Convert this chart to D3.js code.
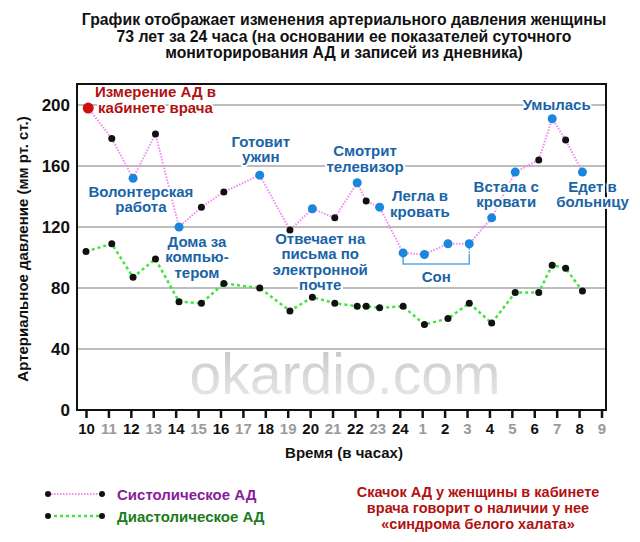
<!DOCTYPE html>
<html>
<head>
<meta charset="utf-8">
<script src="https://cdn.jsdelivr.net/npm/d3@7"></script>
<style>
  body { margin: 0; background: #fff; }
  text { font-family: "Liberation Sans", Arial, sans-serif; }
</style>
</head>
<body>
<div id="root"></div>
<script>
// hours counted from 10:00 of the first day (24 -> midnight, 25 -> 1:00 ...)
var hours     = [10.1, 11.15, 12.1, 13.1, 14.15, 15.15, 16.15, 17.75, 19.1, 20.1, 21.1, 22.1,
                 22.5, 23.1, 24.15, 25.1, 26.15, 27.1, 28.1, 29.15, 30.2, 30.8, 31.4, 32.15];
var systolic  = [198, 178, 152, 181, 120, 133, 143, 154, 118, 132, 126, 149,
                 137, 133, 103, 102, 109, 109, 126, 156, 164, 191, 177, 156];
var diastolic = [104, 109, 87, 99, 71, 70, 83, 80, 65, 74, 70, 68,
                 68, 67, 68, 56, 60, 70, 57, 77, 77, 95, 93, 78];
// marker kind for the systolic points: r = office, b = diary entry, k = plain
var sysKind   = ['r', 'k', 'b', 'k', 'b', 'k', 'k', 'b', 'k', 'b', 'k', 'b',
                 'k', 'b', 'b', 'b', 'b', 'b', 'b', 'b', 'k', 'b', 'k', 'b'];

var tickHours = d3.range(10, 34);
var yTicks = [0, 40, 80, 120, 160, 200];

var titleLines = [
  'График отображает изменения артериального давления женщины',
  '73 лет за 24 часа (на основании ее показателей суточного',
  'мониторирования АД и записей из дневника)'
];

// diary notes: hour / value of the first text line and the lines of text
var notes = [
  { h: 12.45, v: 139.7, lines: ['Волонтерская', 'работа'] },
  { h: 14.95, v: 107,   lines: ['Дома за', 'компью-', 'тером'] },
  { h: 17.8,  v: 172.5, lines: ['Готовит', 'ужин'] },
  { h: 20.45, v: 109,   lines: ['Отвечает на', 'письма по', 'электронной', 'почте'] },
  { h: 22.45, v: 166.5, lines: ['Смотрит', 'телевизор'] },
  { h: 24.9,  v: 137,   lines: ['Легла в', 'кровать'] },
  { h: 28.75, v: 143,   lines: ['Встала с', 'кровати'] },
  { h: 31.0,  v: 196.7, lines: ['Умылась'] },
  { h: 32.6,  v: 143,   lines: ['Едет в', 'больницу'] }
];
var officeNote = { h: 13.1, v: 205.2, lines: ['Измерение АД в', 'кабинете врача'] };

var width = 640, height = 542;
var box = { left: 77, right: 606, top: 84, bottom: 410 };

var x = d3.scaleLinear().domain([10, 33]).range([86, 601.5]);
var y = d3.scaleLinear().domain([0, 200]).range([410, 105]);

var svg = d3.select('#root')
  .append('svg')
    .attr('width', width)
    .attr('height', height);

var defs = svg.append('defs');
var grad = defs.append('linearGradient')
  .attr('id', 'wm').attr('x1', 0).attr('y1', 0).attr('x2', 0).attr('y2', 1);
grad.append('stop').attr('offset', '0%').attr('stop-color', '#c4c4c4');
grad.append('stop').attr('offset', '60%').attr('stop-color', '#dcdcdc');
grad.append('stop').attr('offset', '100%').attr('stop-color', '#ececec');

// title
svg.append('g').selectAll('text')
  .data(titleLines)
  .enter().append('text')
    .attr('x', 344)
    .attr('y', function(d, i) { return 25 + i * 16.5; })
    .attr('text-anchor', 'middle')
    .attr('font-size', 15.8)
    .attr('font-weight', 'bold')
    .attr('fill', '#111')
    .text(function(d) { return d; });

// grid
svg.append('g').selectAll('line')
  .data(yTicks.filter(function(d) { return d > 0; }))
  .enter().append('line')
    .attr('x1', box.left).attr('x2', box.right)
    .attr('y1', function(d) { return y(d); })
    .attr('y2', function(d) { return y(d); })
    .attr('stroke', '#bdbdbd')
    .attr('stroke-width', 2);

// watermark
svg.append('text')
  .attr('x', 345)
  .attr('y', 394)
  .attr('text-anchor', 'middle')
  .attr('font-size', 57)
  .attr('fill', 'url(#wm)')
  .attr('textLength', 311)
  .text('okardio.com');

// frame
svg.append('rect')
  .attr('x', box.left).attr('y', box.top)
  .attr('width', box.right - box.left)
  .attr('height', box.bottom - box.top)
  .attr('fill', 'none')
  .attr('stroke', '#111')
  .attr('stroke-width', 2);

// y axis labels
var yAxis = d3.axisLeft(y).tickValues(yTicks).tickSize(0).tickPadding(7);
var gy = svg.append('g')
  .attr('transform', 'translate(' + box.left + ',0)')
  .call(yAxis);
gy.select('.domain').remove();
gy.selectAll('text')
  .attr('font-family', '"Liberation Sans", Arial, sans-serif')
  .attr('font-size', 17)
  .attr('font-weight', 'bold')
  .attr('fill', '#111');

// x axis
var xAxis = d3.axisBottom(x)
  .tickValues(tickHours)
  .tickSize(8)
  .tickPadding(5)
  .tickFormat(function(d) { return d > 24 ? d - 24 : d; });
var gx = svg.append('g')
  .attr('transform', 'translate(0,' + box.bottom + ')')
  .call(xAxis);
gx.select('.domain')
  .attr('d', 'M' + box.left + ',0H' + (box.right + 1))
  .attr('stroke', '#111')
  .attr('stroke-width', 2);
gx.selectAll('.tick line').attr('stroke', '#111').attr('stroke-width', 2.5);
gx.selectAll('text')
  .attr('font-family', '"Liberation Sans", Arial, sans-serif')
  .attr('font-size', 15)
  .attr('font-weight', 'bold')
  .attr('fill', function(d) { return d % 2 ? '#9a9a9a' : '#111'; });

svg.append('text')
  .attr('x', 344).attr('y', 458)
  .attr('text-anchor', 'middle')
  .attr('font-size', 15).attr('font-weight', 'bold')
  .attr('fill', '#111')
  .text('Время (в часах)');

svg.append('text')
  .attr('transform', 'translate(28,' + 249 + ') rotate(-90)')
  .attr('text-anchor', 'middle')
  .attr('font-size', 15).attr('font-weight', 'bold')
  .attr('fill', '#111')
  .text('Артериальное давление (мм рт. ст.)');

// lines
var sysPts = hours.map(function(h, i) { return [x(h), y(systolic[i])]; });
var diaPts = hours.map(function(h, i) { return [i === 0 ? x(10) : x(h), y(diastolic[i])]; });

svg.append('path')
  .attr('d', d3.line()(diaPts))
  .attr('fill', 'none')
  .attr('stroke', '#3ee63e')
  .attr('stroke-width', 2.5)
  .attr('stroke-dasharray', '3,3');

svg.append('path')
  .attr('d', d3.line()(sysPts))
  .attr('fill', 'none')
  .attr('stroke', '#f28af2')
  .attr('stroke-width', 2)
  .attr('stroke-dasharray', '1.5,1.5');

// sleep bracket
var sleepFrom = hours[14], sleepTo = hours[17];
var bracketY = 264;
svg.append('path')
  .attr('d', 'M' + x(sleepFrom) + ',' + 254 + 'V' + bracketY +
             'H' + x(sleepTo) + 'V' + 254)
  .attr('fill', 'none')
  .attr('stroke', '#5aa8e0')
  .attr('stroke-width', 1.5);
svg.append('line')
  .attr('x1', x(sleepTo)).attr('x2', x(sleepTo))
  .attr('y1', y(systolic[17]) + 4).attr('y2', 254)
  .attr('stroke', '#5aa8e0')
  .attr('stroke-width', 1.5)
  .attr('stroke-dasharray', '2,1.5');
svg.append('text')
  .attr('x', (x(sleepFrom) + x(sleepTo)) / 2)
  .attr('y', 282)
  .attr('text-anchor', 'middle')
  .attr('font-size', 15).attr('font-weight', 'bold')
  .attr('fill', '#1a64a6')
  .text('Сон');

// markers
svg.append('g').selectAll('circle')
  .data(diaPts)
  .enter().append('circle')
    .attr('cx', function(d) { return d[0]; })
    .attr('cy', function(d) { return d[1]; })
    .attr('r', 3.5)
    .attr('fill', '#111');

var kindR = { r: 5.5, b: 4.5, k: 3.5 };
var kindC = { r: '#cc1010', b: '#1a86dc', k: '#111' };
svg.append('g').selectAll('circle')
  .data(sysPts)
  .enter().append('circle')
    .attr('cx', function(d) { return d[0]; })
    .attr('cy', function(d) { return d[1]; })
    .attr('r', function(d, i) { return kindR[sysKind[i]]; })
    .attr('fill', function(d, i) { return kindC[sysKind[i]]; });

// notes
function noteBlock(n, color) {
  var t = svg.append('text')
    .attr('text-anchor', 'middle')
    .attr('font-size', 15).attr('font-weight', 'bold')
    .attr('fill', color)
    .attr('stroke', '#fff').attr('stroke-width', 4)
    .attr('paint-order', 'stroke')
    .attr('stroke-linejoin', 'round');
  n.lines.forEach(function(line, i) {
    t.append('tspan')
      .attr('x', x(n.h))
      .attr('y', y(n.v) + i * 15.5)
      .text(line);
  });
}
notes.forEach(function(n) { noteBlock(n, '#1a64a6'); });
noteBlock(officeNote, '#b01212');

// legend
var legend = [
  { name: 'Систолическое АД', line: '#f28af2', dash: '1.5,1.5', text: '#8a1c9c', w: 2 },
  { name: 'Диастолическое АД', line: '#3ee63e', dash: '3,3', text: '#1c7c1c', w: 2.5 }
];
var lg = svg.append('g').selectAll('g')
  .data(legend)
  .enter().append('g')
    .attr('transform', function(d, i) { return 'translate(0,' + (494 + i * 22) + ')'; });
lg.append('line')
  .attr('x1', 48).attr('x2', 102)
  .attr('stroke', function(d) { return d.line; })
  .attr('stroke-width', function(d) { return d.w; })
  .attr('stroke-dasharray', function(d) { return d.dash; });
lg.selectAll('circle')
  .data([48, 102])
  .enter().append('circle')
    .attr('cx', function(d) { return d; })
    .attr('r', 3)
    .attr('fill', '#111');
lg.append('text')
  .attr('x', 117).attr('y', 5.5)
  .attr('font-size', 15).attr('font-weight', 'bold')
  .attr('fill', function(d) { return d.text; })
  .text(function(d) { return d.name; });

// note on the office reading
var redNote = [
  'Скачок АД у женщины в кабинете',
  'врача говорит о наличии у нее',
  '«синдрома белого халата»'
];
svg.append('g').selectAll('text')
  .data(redNote)
  .enter().append('text')
    .attr('x', 478)
    .attr('y', function(d, i) { return 497 + i * 16; })
    .attr('text-anchor', 'middle')
    .attr('font-size', 14.5).attr('font-weight', 'bold')
    .attr('fill', '#b01212')
    .text(function(d) { return d; });
</script>
</body>
</html>
